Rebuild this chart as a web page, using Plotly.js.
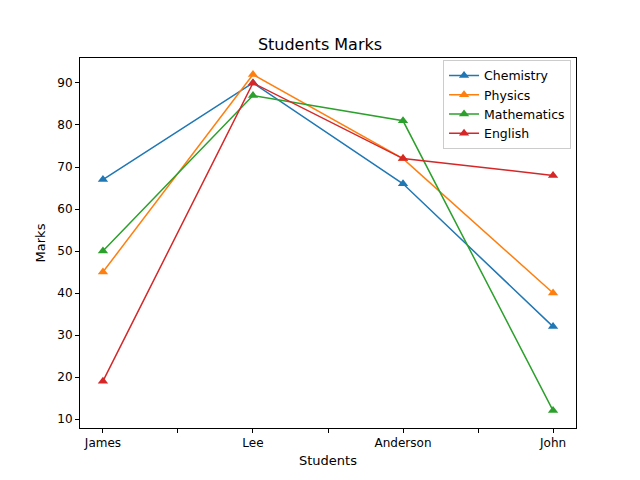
<!DOCTYPE html>
<html>
<head>
<script src="https://cdn.plot.ly/plotly-3.0.1.min.js"></script>
<style>body{margin:0}</style>
</head>
<body>
<div id="chart" style="width:640px;height:480px"></div>
<script>
var students = ['James', 'Lee', 'Anderson', 'John'];
var chemistry = [67, 90, 66, 32];
var physics = [45, 92, 72, 40];
var mathematics = [50, 87, 81, 12];
var english = [19, 90, 72, 68];

var xs = students.map(function(s, i) { return i; });
var tickVals = [], tickText = [];
students.forEach(function(s, i) {
  tickVals.push(i); tickText.push(s);
  if (i < students.length - 1) { tickVals.push(i + 0.5); tickText.push(''); }
});

function series(name, y, color) {
  return {
    x: xs, y: y, name: name, mode: 'lines+markers',
    line: {color: color, width: 1.5},
    marker: {symbol: 'triangle-up', size: 9, color: color}
  };
}

var data = [
  series('Chemistry', chemistry, '#1f77b4'),
  series('Physics', physics, '#ff7f0e'),
  series('Mathematics', mathematics, '#2ca02c'),
  series('English', english, '#d62728')
];

var axisBase = {
  showgrid: false, zeroline: false, showline: true, mirror: true,
  linecolor: '#000', linewidth: 1, ticks: 'outside', ticklen: 4,
  tickcolor: '#000', tickfont: {size: 12, color: '#000'}
};

var layout = {
  width: 640, height: 480,
  margin: {l: 80, r: 64, t: 58, b: 52},
  font: {family: 'DejaVu Sans', color: '#000'},
  title: {text: 'Students Marks', font: {size: 16}, x: 0.5, xanchor: 'center', y: 0.895, yanchor: 'bottom'},
  xaxis: Object.assign({}, axisBase, {
    range: [-0.153, 3.153], tickvals: tickVals, ticktext: tickText,
    title: {text: 'Students', font: {size: 13}, standoff: 6}
  }),
  yaxis: Object.assign({}, axisBase, {
    range: [7.86, 95.95], dtick: 10,
    title: {text: 'Marks', font: {size: 13}, standoff: 8}
  }),
  showlegend: true,
  legend: {
    x: 0.99, y: 0.995, xanchor: 'right', yanchor: 'top',
    bordercolor: '#ccc', borderwidth: 1, bgcolor: 'rgba(255,255,255,0.8)',
    font: {size: 12.5}, tracegroupgap: 0
  },
  plot_bgcolor: '#fff', paper_bgcolor: '#fff'
};

Plotly.newPlot('chart', data, layout, {displayModeBar: false});
</script>
</body>
</html>
